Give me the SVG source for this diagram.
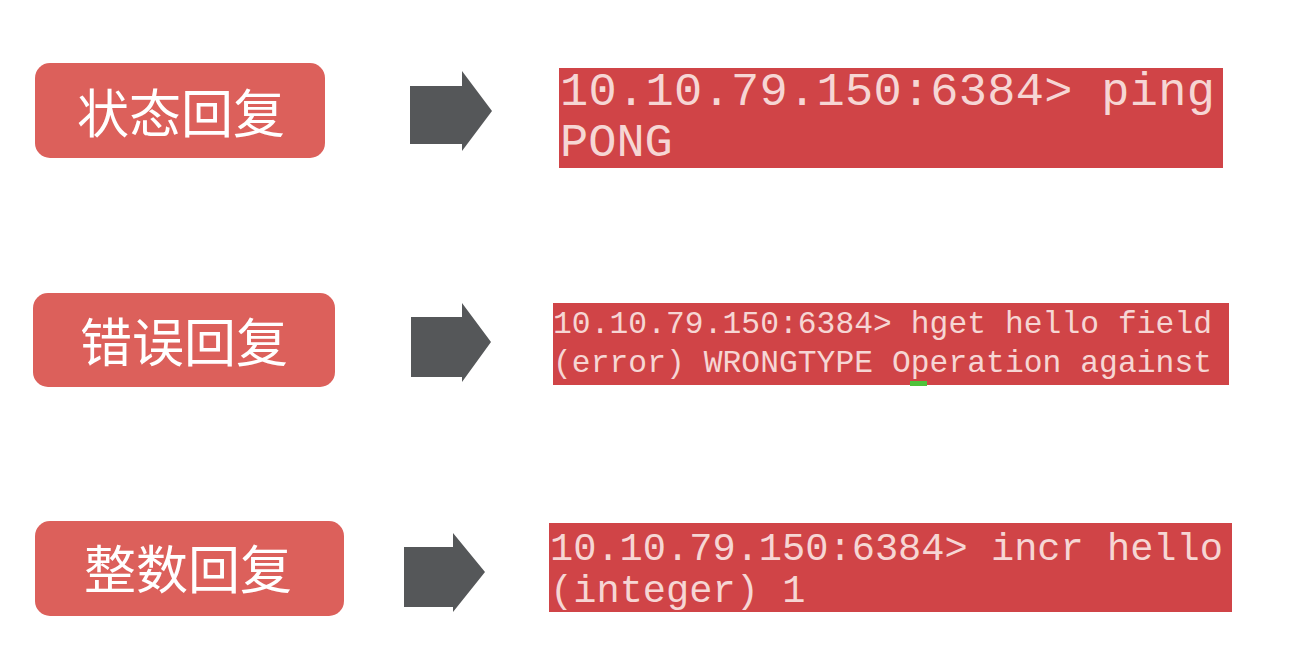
<svg xmlns="http://www.w3.org/2000/svg" width="1301" height="660" viewBox="0 0 1301 660">
  <style>
    .label { fill: #dc605b; }
    .label-text { font-family: "Noto Sans CJK SC", "Noto Sans", sans-serif; font-size: 52px; fill: #ffffff; text-anchor: middle; dominant-baseline: central; }
    .term { fill: #d04447; }
    .term-text { font-family: "Liberation Mono", "DejaVu Sans Mono", monospace; fill: #f6d6d4; }
    .arrow { fill: #555759; }
  </style>
  <rect width="1301" height="660" fill="#ffffff"/>

  <g id="label-status">
    <rect class="label" x="35" y="63" width="290" height="95" rx="15"/>
    <text class="label-text" x="181" y="110">状态回复</text>
  </g>
  <g id="label-error">
    <rect class="label" x="33" y="293" width="302" height="94" rx="15"/>
    <text class="label-text" x="184" y="339">错误回复</text>
  </g>
  <g id="label-integer">
    <rect class="label" x="35" y="521" width="309" height="95" rx="15"/>
    <text class="label-text" x="188" y="566">整数回复</text>
  </g>

  <g id="connectors">
    <path class="arrow" d="M410,86 H462 V71 L492,111 L462,151 V144 H410 Z"/>
    <path class="arrow" d="M411,317 H462 V303 L491,342 L462,382 V377 H411 Z"/>
    <path class="arrow" d="M404,547 H453 V533 L485,572 L453,612 V607 H404 Z"/>
  </g>

  <g id="term-status">
    <rect class="term" x="559" y="68" width="664" height="100"/>
    <text class="term-text" x="560" y="105" font-size="47" textLength="655" lengthAdjust="spacing">10.10.79.150:6384&gt; ping</text>
    <text class="term-text" x="560" y="156" font-size="47">PONG</text>
  </g>
  <g id="term-error">
    <rect class="term" x="553" y="303" width="676" height="82"/>
    <text class="term-text" x="553" y="333" font-size="31.3" textLength="659" lengthAdjust="spacing">10.10.79.150:6384&gt; hget hello field</text>
    <text class="term-text" x="553" y="372" font-size="31.3" textLength="659" lengthAdjust="spacing">(error) WRONGTYPE Operation against</text>
    <rect x="910" y="381" width="17" height="5" fill="#4ec23a"/>
  </g>
  <g id="term-integer">
    <rect class="term" x="549" y="523" width="683" height="89"/>
    <text class="term-text" x="550" y="560" font-size="38.7" textLength="673" lengthAdjust="spacing">10.10.79.150:6384&gt; incr hello</text>
    <text class="term-text" x="550" y="602" font-size="38.7">(integer) 1</text>
  </g>
</svg>
